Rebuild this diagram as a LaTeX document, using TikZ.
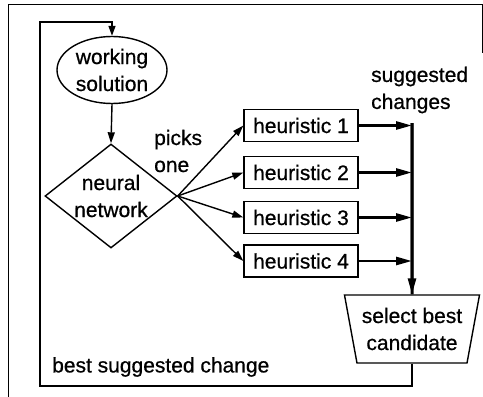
\documentclass[tikz,border=0pt]{standalone}
\usepackage{fontspec}
\setmainfont{Liberation Sans}
\newfontfamily\scanfont[FakeBold=0.7]{Liberation Sans}
\usetikzlibrary{shapes.geometric,arrows.meta}
\begin{document}
\begin{tikzpicture}[x=1pt,y=-1pt,
  every node/.style={font=\scanfont\fontsize{21}{27}\selectfont, inner sep=0pt},
  frameline/.style={line width=1pt},
  thinline/.style={line width=1.4pt},
  thinarrow/.style={line width=1.4pt, -{Triangle[length=11pt,width=7pt]}},
  thickarrow/.style={line width=2.6pt, -{Triangle[length=16pt,width=8pt]}},
  boxnode/.style={draw, line width=1.3pt, minimum width=114pt, minimum height=32pt},
]
\useasboundingbox (0,0) rectangle (483,397);
% frame
\coordinate (fBL) at (8,397);
\coordinate (fTL) at (8,4);
\coordinate (fTR) at (482,4);
\coordinate (fR) at (482,53);
\draw[frameline] (fBL) -- (fTL) -- (fTR) -- (fR);

% nodes
\node[ellipse, draw, line width=1.4pt, minimum width=110pt, minimum height=67pt, align=center] (ws) at (112,70) {working\\solution};
\node[diamond, draw, line width=1.4pt, minimum width=132pt, minimum height=104pt, shape aspect=1.27, align=center] (nn) at (111,196) {neural\\network};
\node[align=left, anchor=west] (po) at (154,151) {picks\\one};
\node[boxnode] (h1) at (301,125.5) {heuristic 1};
\node[boxnode] (h2) at (301,172.5) {heuristic 2};
\node[boxnode] (h3) at (301,217.5) {heuristic 3};
\node[boxnode] (h4) at (301,261) {heuristic 4};
\node[align=left, anchor=west] (sc) at (371,90) {suggested\\changes};
\node[trapezium, draw, line width=1.4pt, shape border rotate=180, trapezium left angle=73.6, trapezium right angle=73.6, trapezium stretches body, minimum width=135pt, minimum height=68pt, align=center] (sel) at (412,329) {select best\\candidate};
\node[anchor=west] (bsc) at (52,367) {best suggested change};

% connectors
\coordinate (bar) at (412,123);
\draw[line width=3pt] (bar) -- (sel.north);
\draw[thickarrow] (bar) -- (sel.north);
\foreach \h in {h1,h2,h3,h4}{
  \draw[thickarrow] (\h.east) -- (\h.east -| bar);
  \draw[thinarrow] (nn.east) -- (\h.west);
}
\draw[thinarrow] (ws.south) -- (nn.north);
\coordinate (lb) at (40,386);
\coordinate (lt) at (40,22);
\draw[thinline, -{Triangle[length=10pt,width=7pt]}] (sel.south) -- (sel.south |- lb) -- (lb) -- (lt) -- (lt -| ws.north) -- (ws.north);
\end{tikzpicture}
\end{document}
